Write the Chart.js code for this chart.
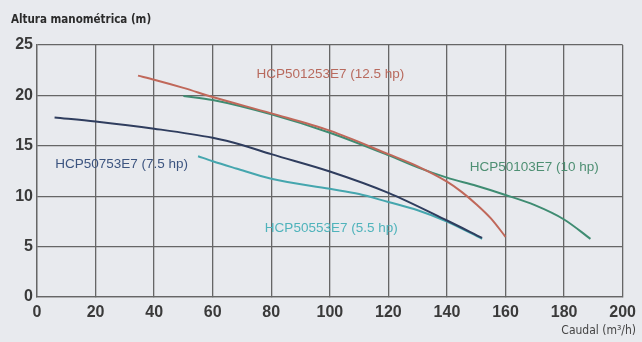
<!DOCTYPE html>
<html>
<head>
<meta charset="utf-8">
<script src="https://cdn.jsdelivr.net/npm/chart.js@4.4.1/dist/chart.umd.min.js"></script>
<style>
  html, body { margin: 0; padding: 0; background: #e8eaee; }
  #wrap { width: 642px; height: 342px; position: relative; }
</style>
</head>
<body>
<div id="wrap"><canvas id="curvas"></canvas></div>
<script>
// Curvas de bombas: caudal (m3/h) vs altura manométrica (m)
const xTicks = [0, 20, 40, 60, 80, 100, 120, 140, 160, 180, 200];
const yTicks = [0, 5, 10, 15, 20, 25];

const q125 = [34.5, 40, 50, 60, 80, 100, 120, 130, 140, 145, 150, 155, 160];
const h125 = [21.96, 21.56, 20.75, 19.84, 18.22, 16.5, 14.17, 12.96, 11.44, 10.43, 9.21, 7.8, 5.97];

const q100 = [50, 60, 80, 100, 120, 130, 140, 150, 160, 170, 180, 189];
const h100 = [19.94, 19.54, 18.12, 16.3, 14.07, 12.86, 11.84, 11.03, 10.12, 9.11, 7.69, 5.77];

const q75 = [6, 20, 40, 60, 70, 80, 100, 120, 140, 152];
const h75 = [17.81, 17.41, 16.7, 15.79, 15.08, 14.17, 12.45, 10.33, 7.59, 5.87];

const q55 = [55, 60, 68, 80, 100, 110, 120, 130, 140, 152];
const h55 = [13.97, 13.46, 12.75, 11.74, 10.73, 10.22, 9.42, 8.61, 7.49, 5.77];

const modelos = ['HCP501253E7 (12.5 hp)', 'HCP50103E7 (10 hp)', 'HCP50753E7 (7.5 hp)', 'HCP50553E7 (5.5 hp)'];
const colores = ['#c0685a', '#3f8c72', '#2f3d5e', '#45a6ae'];
const colorEtiqueta = ['#b86a5e', '#4e8f73', '#3d5580', '#4fb3bb'];
// posición de cada etiqueta en unidades de datos
const etqX = [100.2, 169.8, 28.9, 100.5];
const etqY = [22.07, 12.86, 13.16, 6.78];

const pares = (xs, ys) => xs.map((x, i) => ({ x, y: ys[i] }));
const series = [pares(q125, h125), pares(q100, h100), pares(q75, h75), pares(q55, h55)];

const fondo = {
  id: 'fondo',
  beforeDraw(chart) {
    const c = chart.ctx;
    c.save();
    c.fillStyle = '#e8eaee';
    c.fillRect(0, 0, chart.width, chart.height);
    c.restore();
  }
};

const textos = {
  id: 'textos',
  afterDatasetsDraw(chart) {
    const c = chart.ctx;
    const sx = chart.scales.x, sy = chart.scales.y;
    c.save();
    c.textAlign = 'center';
    c.textBaseline = 'middle';
    c.font = '13.5px "Liberation Sans", sans-serif';
    modelos.forEach((t, i) => {
      c.fillStyle = colorEtiqueta[i];
      c.fillText(t, sx.getPixelForValue(etqX[i]), sy.getPixelForValue(etqY[i]));
    });
    // títulos de ejes
    c.textAlign = 'left';
    c.fillStyle = '#2b2b2b';
    c.font = 'bold 11.5px "DejaVu Sans Condensed", "Liberation Sans", sans-serif';
    c.fillText('Altura manométrica (m)', 11, 20);
    c.textAlign = 'right';
    c.fillStyle = '#444';
    c.font = '12px "DejaVu Sans Condensed", "Liberation Sans", sans-serif';
    c.fillText('Caudal (m³/h)', 636, 331);
    c.restore();
  }
};

new Chart(document.getElementById('curvas').getContext('2d'), {
  type: 'line',
  data: {
    datasets: series.map((d, i) => ({
      label: modelos[i],
      data: d,
      borderColor: colores[i],
      borderWidth: 2,
      pointRadius: 0,
      fill: false,
      cubicInterpolationMode: 'monotone'
    }))
  },
  options: {
    responsive: true,
    maintainAspectRatio: false,
    animation: false,
    layout: { padding: { top: 45, right: 13, left: 0, bottom: 0 } },
    plugins: { legend: { display: false }, tooltip: { enabled: false } },
    scales: {
      x: {
        type: 'linear',
        min: 0, max: 200,
        afterFit(s) { s.height = 45; },
        afterBuildTicks(s) { s.ticks = xTicks.map(v => ({ value: v })); },
        grid: { color: '#666', lineWidth: 1.3, tickLength: 0 },
        border: { color: '#666', width: 1.3 },
        ticks: { color: '#3a3a3a', padding: 6, font: { family: '"Liberation Sans", sans-serif', size: 16, weight: 'bold' } }
      },
      y: {
        min: 0, max: 25,
        afterFit(s) { s.width = 37; },
        afterBuildTicks(s) { s.ticks = yTicks.map(v => ({ value: v })); },
        grid: { color: '#666', lineWidth: 1.3, tickLength: 0 },
        border: { color: '#666', width: 1.3 },
        ticks: { color: '#3a3a3a', padding: 4, font: { family: '"Liberation Sans", sans-serif', size: 16, weight: 'bold' } }
      }
    }
  },
  plugins: [fondo, textos]
});
</script>
</body>
</html>
